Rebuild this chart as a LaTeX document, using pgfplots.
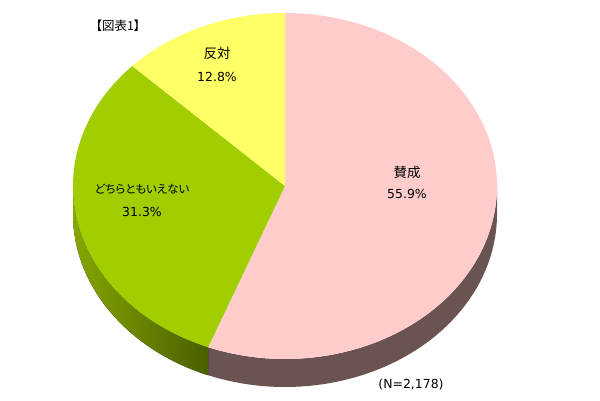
\documentclass[border=0pt]{standalone}
\usepackage{pgfplots}
\pgfplotsset{compat=1.18}
\usepgfplotslibrary{fillbetween}
\usepackage{fontspec}
\setmainfont{DejaVu Sans}
\newfontfamily\jp[RawFeature=+palt]{Noto Sans CJK JP}
\definecolor{pinkTop}{HTML}{FFCCCC}
\definecolor{pinkSide}{HTML}{6B5351}
\definecolor{greenTop}{HTML}{A0CE00}
\definecolor{greenL}{HTML}{86A600}
\definecolor{greenD}{HTML}{4A5F00}
\definecolor{yellowTop}{HTML}{FFFF66}
% shares (percent)
\def\vA{55.9}\def\vB{31.3}\def\vC{12.8}
\def\cx{285}\def\cy{214}\def\rx{212}\def\ry{173}\def\th{28}
\pgfmathsetmacro\aA{90-\vA*3.6}
\pgfmathsetmacro\aB{\aA-\vB*3.6}
\pgfmathsetmacro\aC{\aB-\vC*3.6}
\tikzset{lbl/.style={font=\fontsize{12.5}{15}\selectfont, inner sep=0pt}}
\begin{document}
\begin{tikzpicture}
\begin{axis}[scale only axis, width=600bp, height=400bp,
  xmin=0, xmax=600, ymin=0, ymax=400, axis lines=none]
% sides
\addplot[draw=none, name path=ptop, domain=\aA:0, samples=80] ({\cx+\rx*cos(x)},{\cy+\ry*sin(x)});
\addplot[draw=none, name path=pbot, domain=\aA:0, samples=80] ({\cx+\rx*cos(x)},{\cy-\th+\ry*sin(x)});
\addplot[pinkSide] fill between[of=ptop and pbot];
\addplot[draw=none, name path=gtop, domain=-180:\aA, samples=60] ({\cx+\rx*cos(x)},{\cy+\ry*sin(x)});
\addplot[draw=none, name path=gbot, domain=-180:\aA, samples=60] ({\cx+\rx*cos(x)},{\cy-\th+\ry*sin(x)});
\addplot[left color=greenL, right color=greenD] fill between[of=gtop and gbot];
% top faces
\addplot[fill=pinkTop, draw=none, domain=\aA:90, samples=120] ({\cx+\rx*cos(x)},{\cy+\ry*sin(x)}) -- (axis cs:\cx,\cy) -- cycle;
\addplot[fill=greenTop, draw=none, domain=\aB:\aA, samples=80] ({\cx+\rx*cos(x)},{\cy+\ry*sin(x)}) -- (axis cs:\cx,\cy) -- cycle;
\addplot[fill=yellowTop, draw=none, domain=\aC:\aB, samples=40] ({\cx+\rx*cos(x)},{\cy+\ry*sin(x)}) -- (axis cs:\cx,\cy) -- cycle;
% labels
\node[lbl] at (axis cs:118,374) {\jp 【図表1】};
\node[lbl, font=\fontsize{13.5}{15}\selectfont] at (axis cs:217,347) {\jp 反対};
\node[lbl] at (axis cs:217,323) {12.8\%};
\node[lbl, font=\fontsize{11.5}{15}\selectfont] at (axis cs:142,211) {\jp どちらともいえない};
\node[lbl] at (axis cs:142,188) {31.3\%};
\node[lbl, font=\fontsize{13.5}{15}\selectfont] at (axis cs:407,228) {\jp 賛成};
\node[lbl] at (axis cs:407,206) {55.9\%};
\node[lbl] at (axis cs:411,15) {(N=2,178)};
\end{axis}
\end{tikzpicture}
\end{document}
